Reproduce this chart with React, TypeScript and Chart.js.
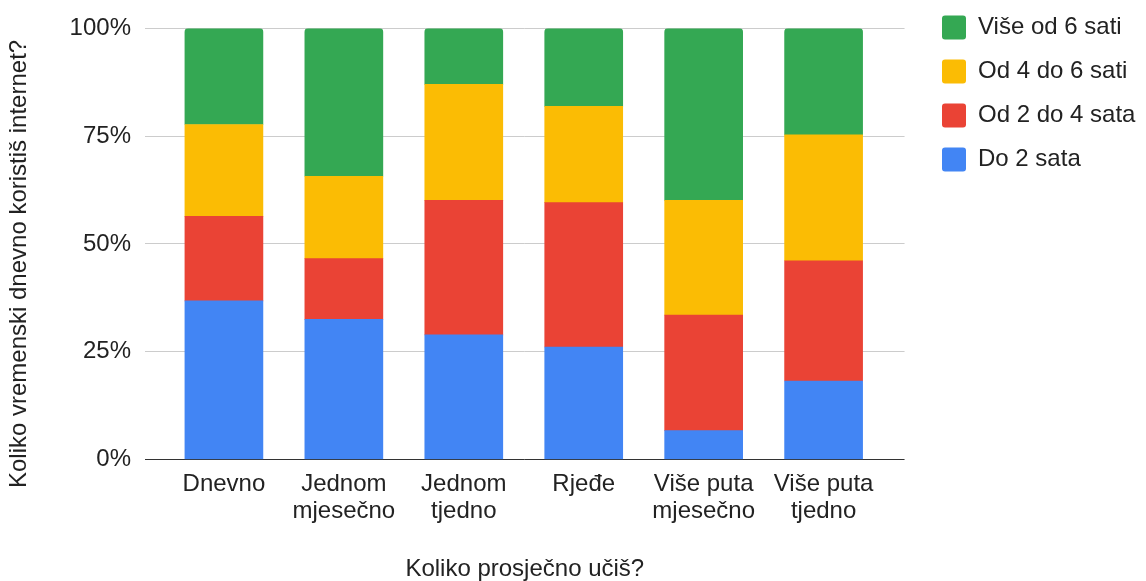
import React, { useEffect, useRef } from 'react';
import { Chart, registerables } from 'chart.js';

Chart.register(...registerables);

// Categories (x axis), as label lines
const categories: string[][] = [
  ['Dnevno'],
  ['Jednom', 'mjesečno'],
  ['Jednom', 'tjedno'],
  ['Rjeđe'],
  ['Više puta', 'mjesečno'],
  ['Više puta', 'tjedno'],
];

// Series (percent of respondents per category)
const do2Sata = [36.8, 32.5, 28.9, 26.1, 6.7, 18.2];
const od2do4Sata = [19.6, 14.1, 31.2, 33.5, 26.8, 27.9];
const od4do6Sati = [21.3, 19.1, 26.9, 22.3, 26.6, 29.2];
const viseOd6Sati = [22.3, 34.3, 13.0, 18.1, 39.9, 24.7];

const seriesNames = ['Do 2 sata', 'Od 2 do 4 sata', 'Od 4 do 6 sati', 'Više od 6 sati'];
const yTicks = [0, 25, 50, 75, 100];

const xTitle = 'Koliko prosječno učiš?';
const yTitle = 'Koliko vremenski dnevno koristiš internet?';

export default function App() {
  const ref = useRef<HTMLCanvasElement>(null);

  useEffect(() => {
    document.body.style.margin = '0';
    const font = { family: "'Liberation Sans', Arial, sans-serif", size: 24 };
    const mk = (label: string, values: number[], color: string, top = false) => ({
      label,
      data: values.map((v, i) => ({ x: i, y: v })),
      backgroundColor: color,
      borderWidth: 0,
      borderRadius: top ? { topLeft: 4, topRight: 4, bottomLeft: 0, bottomRight: 0 } : 0,
      barThickness: 78,
    });

    // place the legend block at the top right, as in the reference
    const legendPlace = {
      id: 'legendPlace',
      afterLayout(chart: any) {
        const l = chart.legend;
        if (l) {
          const dy = 15.5 - (l.top + 20);
          l.top += dy;
          l.bottom += dy;
          const dx = 922 - l.left;
          l.left += dx;
          l.right += dx;
        }
      },
    };

    const chart = new Chart(ref.current as HTMLCanvasElement, {
      type: 'bar',
      data: {
        datasets: [
          mk(seriesNames[0], do2Sata, '#4285F4'),
          mk(seriesNames[1], od2do4Sata, '#EA4335'),
          mk(seriesNames[2], od4do6Sati, '#FBBC04'),
          mk(seriesNames[3], viseOd6Sati, '#34A853', true),
        ] as any,
      },
      options: {
        animation: false,
        responsive: false,
        maintainAspectRatio: false,
        layout: { padding: { top: 27.5, left: 0, right: 18, bottom: 0 } },
        plugins: {
          legend: {
            position: 'right',
            align: 'start',
            reverse: true,
            labels: {
              boxWidth: 24,
              boxHeight: 24,
              padding: 20,
              font,
              color: '#222',
              useBorderRadius: true,
              borderRadius: 3,
            } as any,
          },
          tooltip: { enabled: false },
          title: { display: false },
        },
        scales: {
          x: {
            type: 'linear',
            stacked: true,
            offset: false,
            min: -0.658,
            max: 5.675,
            grid: { display: false, drawTicks: false, offset: false },
            border: { display: false },
            afterBuildTicks: (s: any) => {
              s.ticks = categories.map((_, i) => ({ value: i }));
            },
            ticks: {
              callback: (v: any) => categories[v as number],
              font: { ...font, lineHeight: 1.1 },
              color: '#222',
              padding: 12,
              maxRotation: 0,
              autoSkip: false,
            },
            title: {
              display: true,
              text: xTitle,
              font: { ...font, lineHeight: 1.0 },
              color: '#222',
              padding: { top: 0, bottom: 0 },
            },
            afterFit: (s: any) => {
              s.height = 121.5;
            },
          },
          y: {
            stacked: true,
            min: 0,
            max: 100,
            afterBuildTicks: (s: any) => {
              s.ticks = yTicks.map((v) => ({ value: v }));
            },
            grid: {
              color: (c: any) => (c.tick && c.tick.value === 0 ? '#333' : '#ccc'),
              drawTicks: false,
            },
            border: { display: false },
            ticks: { callback: (v: any) => v + '%', font, color: '#222', padding: 14 },
            title: {
              display: true,
              text: yTitle + '      ',
              font,
              color: '#222',
              padding: { top: 5, bottom: 0 },
            },
            afterFit: (s: any) => {
              s.width = 145;
            },
          },
        },
      } as any,
      plugins: [legendPlace],
    });
    return () => chart.destroy();
  }, []);

  return (
    <canvas
      ref={ref}
      width={1146}
      height={581}
      style={{ display: 'block', width: '1146px', height: '581px' }}
    />
  );
}
